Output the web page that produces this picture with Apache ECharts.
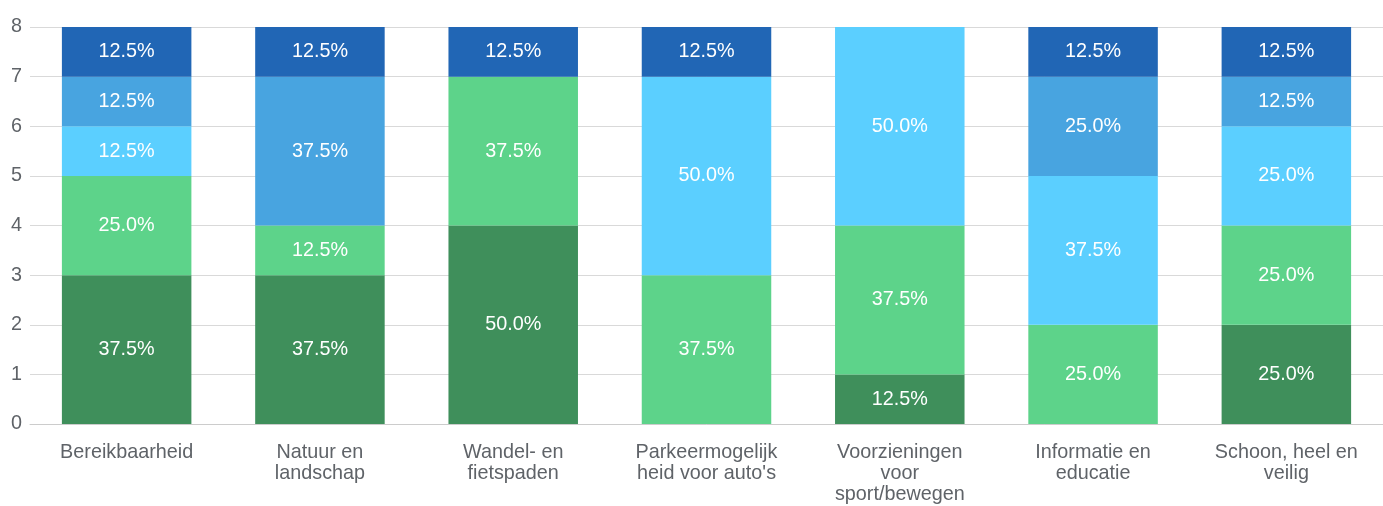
<!DOCTYPE html>
<html><head><meta charset="utf-8">
<script src="https://cdn.jsdelivr.net/npm/echarts@6/dist/echarts.min.js"></script>
<style>html,body{margin:0;padding:0;background:#fff}#c{width:1383px;height:506px}</style>
</head><body><div id="c"></div>
<script>
const categories = ["Bereikbaarheid", "Natuur en\nlandschap", "Wandel- en\nfietspaden", "Parkeermogelijk\nheid voor auto's", "Voorzieningen\nvoor\nsport/bewegen", "Informatie en\neducatie", "Schoon, heel en\nveilig"];
const total = 8;
const seriesDarkGreen = [3, 3, 4, 0, 1, 0, 2];
const seriesLightGreen = [2, 1, 3, 3, 3, 2, 2];
const seriesLightBlue = [1, 0, 0, 4, 4, 3, 2];
const seriesMidBlue = [1, 3, 0, 0, 0, 2, 1];
const seriesDarkBlue = [1, 1, 1, 1, 0, 1, 1];
const yTicks = [0, 1, 2, 3, 4, 5, 6, 7, 8];

const colors = ['#3f8f5b', '#5dd38a', '#5bcfff', '#48a4e0', '#2166b5'];
const data = [seriesDarkGreen, seriesLightGreen, seriesLightBlue, seriesMidBlue, seriesDarkBlue];
const font = '"Liberation Sans", Arial, sans-serif';
const fs = 19.8;

const chart = echarts.init(document.getElementById('c'), null, {renderer: 'canvas'});
chart.setOption({
  animation: false,
  grid: {left: 30, right: 0, top: 27, bottom: 82, containLabel: false},
  xAxis: {
    type: 'category', data: categories,
    axisLine: {lineStyle: {color: '#cccccc'}},
    axisTick: {show: false},
    axisLabel: {color: '#5f6368', fontSize: fs, fontFamily: font, lineHeight: 21, margin: 18, interval: 0}
  },
  yAxis: {
    type: 'value', min: yTicks[0], max: yTicks[yTicks.length - 1], interval: 1,
    axisLine: {show: false}, axisTick: {show: false},
    splitLine: {lineStyle: {color: '#d9d9d9'}},
    axisLabel: {color: '#5f6368', fontSize: fs, fontFamily: font, margin: 8}
  },
  series: data.map((d, i) => ({
    type: 'bar', stack: 'a', barWidth: '67%',
    itemStyle: {color: colors[i]},
    data: d,
    label: {
      show: true, position: 'inside', color: '#ffffff', fontSize: fs, fontFamily: font,
      formatter: p => p.value > 0 ? (p.value / total * 100).toFixed(1) + '%' : ''
    }
  }))
});
</script></body></html>
